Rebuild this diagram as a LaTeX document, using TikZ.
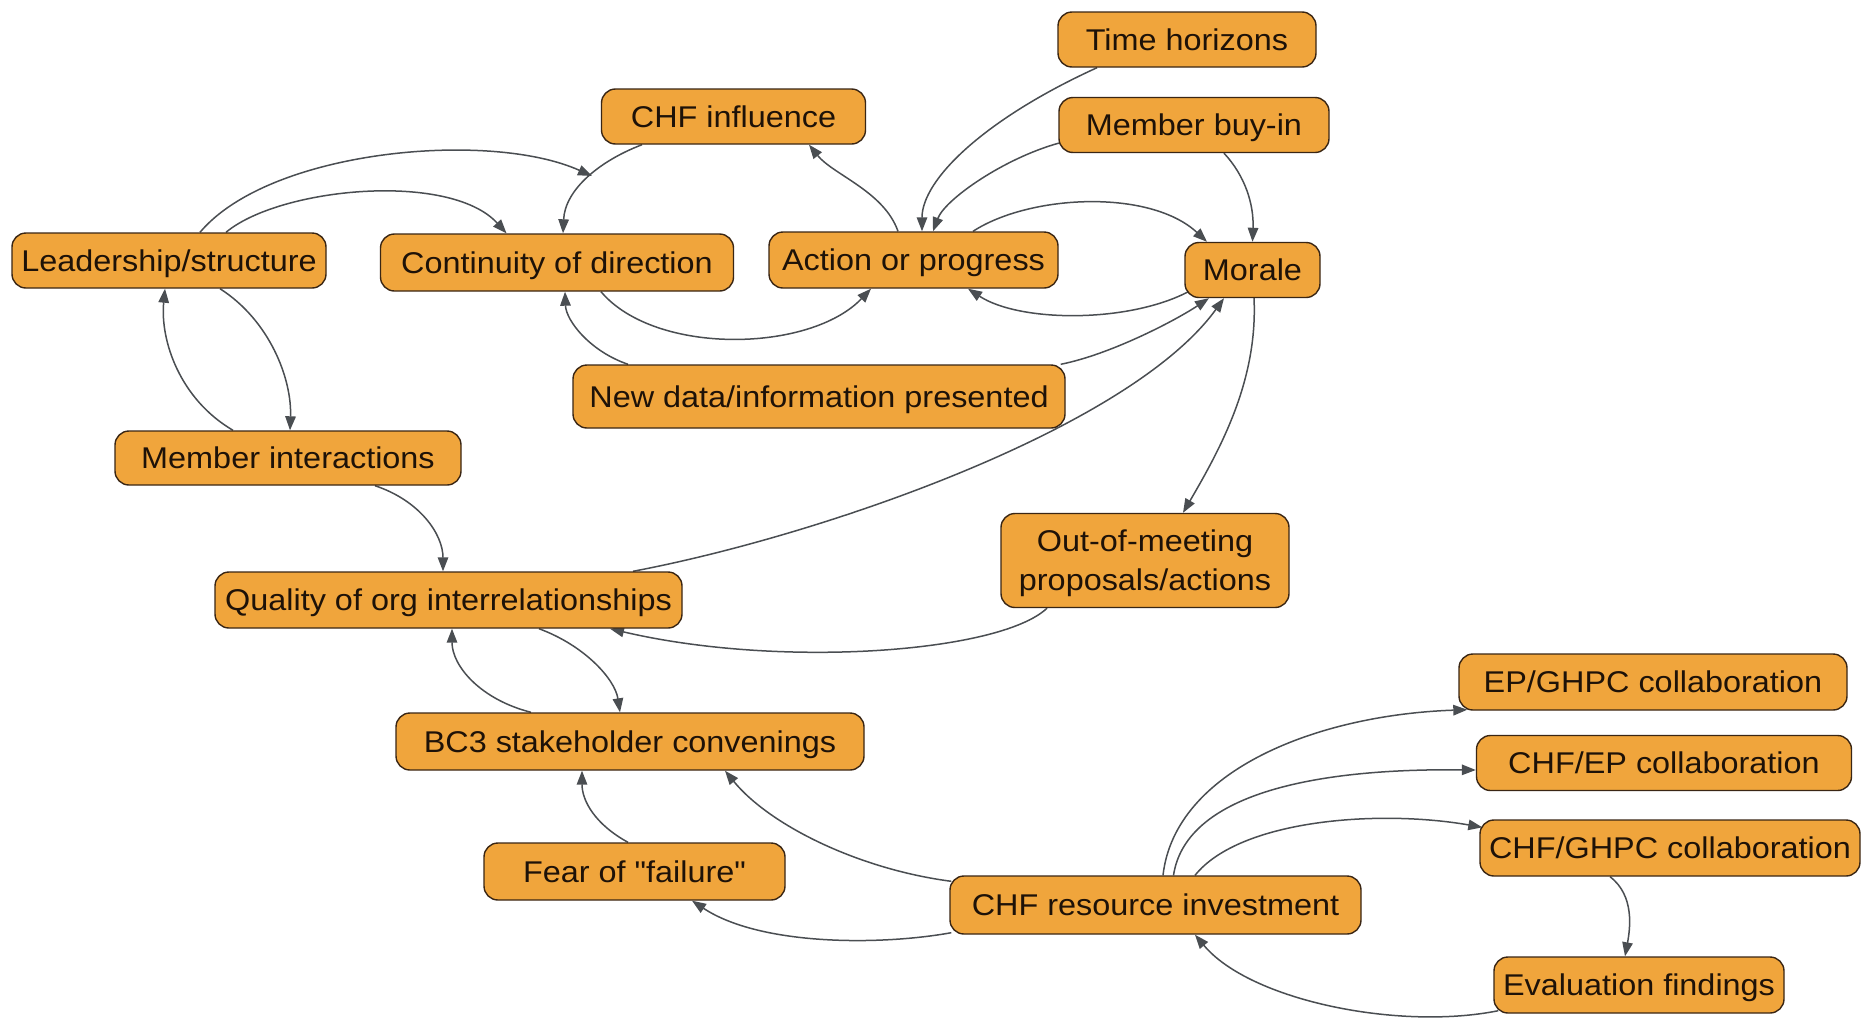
\documentclass[tikz,border=0pt]{standalone}
\usepackage{fontspec}
\setmainfont{Liberation Sans}[FakeStretch=1.08, Ligatures=TeXOff]
\usetikzlibrary{arrows.meta,calc}
\definecolor{boxfill}{HTML}{F0A53C}
\definecolor{boxline}{HTML}{3A2614}
\definecolor{edgec}{HTML}{4A4E52}
\definecolor{textc}{HTML}{1E1208}
\pgfdeclarelayer{bg}
\pgfsetlayers{bg,main}
\tikzset{
  box/.style={draw=boxline, fill=boxfill, line width=1.4pt, rounded corners=14pt,
    inner sep=0pt, font=\fontsize{30}{39}\selectfont, text=textc, align=center,
    text height=24pt, text depth=3pt},
  link/.style={draw=edgec, line width=1.5pt, -{Triangle[length=14pt,width=10.5pt]}}
}
\begin{document}
\begin{tikzpicture}[x=1pt,y=-1pt]
\useasboundingbox (0,0) rectangle (1864,1018);

% factors
\node[box, minimum width=258pt, minimum height=55pt] (timeh) at (1187,39.5) {Time horizons};
\node[box, minimum width=270pt, minimum height=55pt] (buyin) at (1194,125) {Member buy-in};
\node[box, minimum width=264pt, minimum height=55pt] (chfinf) at (733.5,116.5) {CHF influence};
\node[box, minimum width=314pt, minimum height=55pt] (lead) at (169,260.5) {Leadership/structure};
\node[box, minimum width=353pt, minimum height=57pt] (cont) at (557,262.5) {Continuity of direction};
\node[box, minimum width=289pt, minimum height=56pt] (action) at (913.5,260) {Action or progress};
\node[box, minimum width=135pt, minimum height=55pt] (morale) at (1252.5,270) {Morale};
\node[box, minimum width=492pt, minimum height=63pt] (newdata) at (819,396.5) {New data/information presented};
\node[box, minimum width=346pt, minimum height=54pt] (memint) at (288,458) {Member interactions};
\node[box, minimum width=288pt, minimum height=94pt, text height=, text depth=] (oom) at (1145,560.5) {\rule{0pt}{27pt}Out-of-meeting\\proposals/actions};
\node[box, minimum width=467pt, minimum height=56pt] (quality) at (448.5,600) {Quality of org interrelationships};
\node[box, minimum width=468pt, minimum height=57pt] (bc3) at (630,741.5) {BC3 stakeholder convenings};
\node[box, minimum width=301pt, minimum height=57pt] (fear) at (634.5,871.5) {Fear of "failure"};
\node[box, minimum width=411pt, minimum height=58pt] (chfres) at (1155.5,905) {CHF resource investment};
\node[box, minimum width=388pt, minimum height=56pt] (epghpc) at (1653,682) {EP/GHPC collaboration};
\node[box, minimum width=375pt, minimum height=55pt] (chfep) at (1664,763) {CHF/EP collaboration};
\node[box, minimum width=380pt, minimum height=56pt] (chfghpc) at (1670,848) {CHF/GHPC collaboration};
\node[box, minimum width=290pt, minimum height=56pt] (evalf) at (1639,985) {Evaluation findings};

\coordinate (p1) at (592,176);

% influence links, drawn beneath the boxes
\begin{pgfonlayer}{bg}
\fill[white] (0,0) rectangle (1864,1018);
\draw[link] ($(lead.north)+(31,0)$) .. controls +(70,-83) and +(-102,-46) .. (p1);
\draw[link] ($(lead.north)+(57,0)$) .. controls +(54,-45) and +(-56.5,-62) .. ($(cont.north)+(-50.5,0)$);
\draw[link] ($(chfinf.south)+(-91.5,0)$) .. controls +(-42,16) and +(2,-44) .. ($(cont.north)+(6,0)$);
\draw[link] ($(action.north)+(-15.5,0)$) .. controls +(-14,-40) and +(24,30) .. ($(chfinf.south)+(75.5,0)$);
\draw[link] ($(cont.south)+(44,0)$) .. controls +(54,64) and +(-61,64) .. ($(action.south)+(-42.5,0)$);
\draw[link] ($(newdata.north)+(-191,0)$) .. controls +(-38,-13) and +(1,29) .. ($(cont.south)+(8,0)$);
\draw[link] ($(timeh.south)+(-90,0)$) .. controls +(-112,51) and +(0,-52) .. ($(action.north)+(8.5,0)$);
\draw[link] ($(buyin.west)+(1,18)$) .. controls +(-55,15) and +(12,-32) .. ($(action.north)+(19.5,0)$);
\draw[link] ($(buyin.south)+(30,0)$) .. controls +(21,22.5) and +(1.5,-37.5) .. (morale.north);
\draw[link] ($(action.north)+(59.5,0)$) .. controls +(57,-37) and +(-57,-53) .. ($(morale.north)+(-45.5,0)$);
\draw[link] ($(morale.south west)+(5,-7)$) .. controls +(-60,32) and +(52,34) .. ($(action.south)+(54.5,0)$);
\draw[link] ($(newdata.north east)+(-5,0)$) .. controls +(50,-10) and +(-34,22.5) .. ($(morale.south)+(-43.5,0)$);
\draw[link] ($(quality.north)+(184.5,0)$) .. controls +(190,-36) and +(-94,130) .. ($(morale.south)+(-28.5,0)$);
\draw[link] ($(morale.south)+(1.5,0)$) .. controls +(4,82.5) and +(37,-63.5) .. ($(oom.north)+(38,0)$);
\draw[link] ($(oom.south)+(-98,0)$) .. controls +(-47,44.5) and +(170,40) .. ($(quality.south)+(161.5,0)$);
\draw[link] ($(lead.south)+(51,0)$) .. controls +(50,32) and +(2,-51) .. ($(memint.north)+(2,0)$);
\draw[link] ($(memint.north)+(-55,0)$) .. controls +(-53,-31) and +(-5,52) .. ($(lead.south)+(-4,0)$);
\draw[link] ($(memint.south)+(87,0)$) .. controls +(45,15) and +(0,-37) .. ($(quality.north)+(-5.5,0)$);
\draw[link] ($(bc3.north)+(-99,0)$) .. controls +(-51,-13) and +(0,37) .. ($(quality.south)+(3.5,0)$);
\draw[link] ($(quality.south)+(90.5,0)$) .. controls +(46,17) and +(-5,-33) .. ($(bc3.north)+(-10,0)$);
\draw[link] ($(fear.north)+(-6.5,0)$) .. controls +(-33,-18) and +(0,30) .. ($(bc3.south)+(-48,0)$);
\draw[link] ($(chfres.north west)+(2,6)$) .. controls +(-92,-12) and +(45,55) .. ($(bc3.south)+(95,0)$);
\draw[link] ($(chfres.south west)+(2,-2)$) .. controls +(-72,13) and +(68,45) .. ($(fear.south)+(57.5,0)$);
\draw[link] ($(chfres.north)+(7.5,0)$) .. controls +(12,-106) and +(-148,5) .. ($(epghpc.south west)+(9,-1)$);
\draw[link] ($(chfres.north)+(18,0)$) .. controls +(11.5,-76) and +(-176.5,-2) .. ($(chfep.west)+(0,7)$);
\draw[link] ($(chfres.north)+(39.5,0)$) .. controls +(45,-56) and +(-103,-18) .. ($(chfghpc.north west)+(3,8)$);
\draw[link] ($(chfghpc.south)+(-60,0)$) .. controls +(25,19) and +(5,-27) .. ($(evalf.north)+(-14,0)$);
\draw[link] ($(evalf.south west)+(5,-3)$) .. controls +(-99,20) and +(55,66) .. ($(chfres.south)+(39.5,0)$);
\end{pgfonlayer}
\end{tikzpicture}
\end{document}
